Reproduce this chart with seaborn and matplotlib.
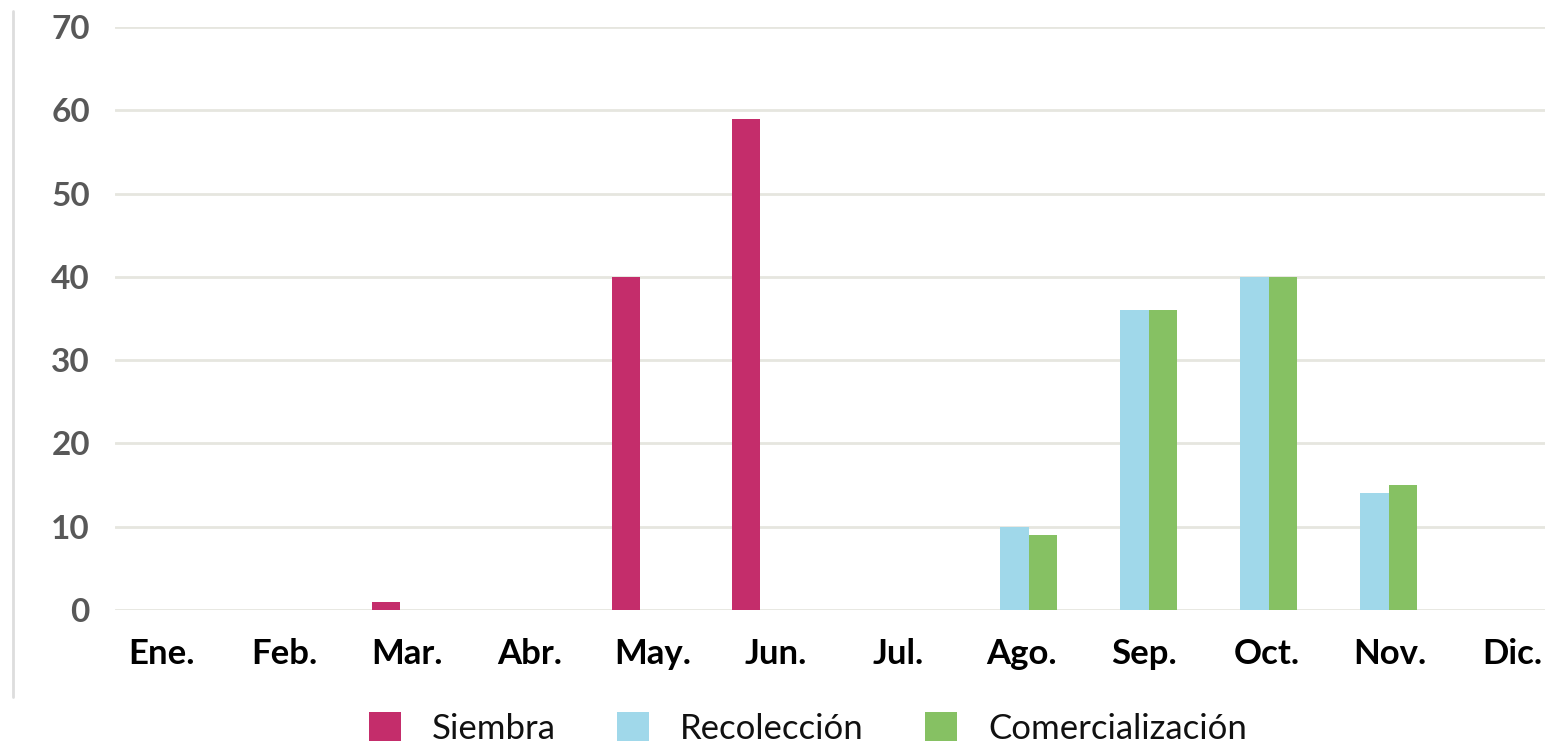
import matplotlib
matplotlib.use("Agg")
import matplotlib.pyplot as plt
import seaborn as sns
import pandas as pd
from matplotlib.patches import Patch
from matplotlib.lines import Line2D

months = ["Ene.", "Feb.", "Mar.", "Abr.", "May.", "Jun.", "Jul.", "Ago.", "Sep.", "Oct.", "Nov.", "Dic."]
series = ["Siembra", "Recolección", "Comercialización"]
siembra = [0, 0, 1, 0, 40, 59, 0, 0, 0, 0, 0, 0]
recoleccion = [0, 0, 0, 0, 0, 0, 0, 10, 36, 40, 14, 0]
comercializacion = [0, 0, 0, 0, 0, 0, 0, 9, 36, 40, 15, 0]
yticks = [0, 10, 20, 30, 40, 50, 60, 70]
colors = ["#C42D6B", "#A0D8EA", "#86C163"]

rows = []
for name, vals in zip(series, [siembra, recoleccion, comercializacion]):
    for m, v in zip(months, vals):
        rows.append({"Mes": m, "Serie": name, "Valor": v})
df = pd.DataFrame(rows)

sns.set_theme(style="white")
plt.rcParams["font.family"] = ["Lato", "DejaVu Sans"]

fig = plt.figure(figsize=(15.45, 7.47), dpi=100)
ax = fig.add_axes([0.0744, 0.1834, 0.9256, 0.7805])

sns.barplot(data=df, x="Mes", y="Valor", hue="Serie", order=months, hue_order=series,
            palette=colors, width=0.71, gap=0.0, ax=ax, legend=False, saturation=1,
            edgecolor="none", linewidth=0)

ax.set_ylim(0, 70)
ax.set_xlim(-0.496, 11.42)
ax.set_yticks(yticks)
ax.set_yticklabels([str(t) for t in yticks])
# tick labels in the reference sit on a slightly wider grid than the bars
ax.set_xticks([-0.108 + 1.0233 * i for i in range(len(months))])
ax.set_xticklabels(months)
ax.yaxis.grid(True, color="#E6E6DF", linewidth=2)
ax.set_axisbelow(True)
for s in ax.spines.values():
    s.set_visible(False)
ax.set_xlabel("")
ax.set_ylabel("")
ax.tick_params(axis="x", length=0, pad=20, labelsize=25, labelcolor="black")
ax.tick_params(axis="y", length=0, pad=18, labelsize=24, labelcolor="#585858")
for lab in ax.get_xticklabels():
    lab.set_fontweight("bold")
for lab in ax.get_yticklabels():
    lab.set_fontweight("bold")

handles = [Patch(facecolor=c, edgecolor="none", label=s) for c, s in zip(colors, series)]
fig.legend(handles=handles, loc="center", bbox_to_anchor=(0.523, 0.025), ncol=3,
           frameon=False, fontsize=25, handlelength=0.92, handleheight=0.9,
           handletextpad=0.9, columnspacing=1.76, labelcolor="#111111")

fig.add_artist(Line2D([0.0084, 0.0084], [0.985, 0.067], color="#DDDDDD", linewidth=2,
                      transform=fig.transFigure))

fig.savefig("out.png", dpi=100)
